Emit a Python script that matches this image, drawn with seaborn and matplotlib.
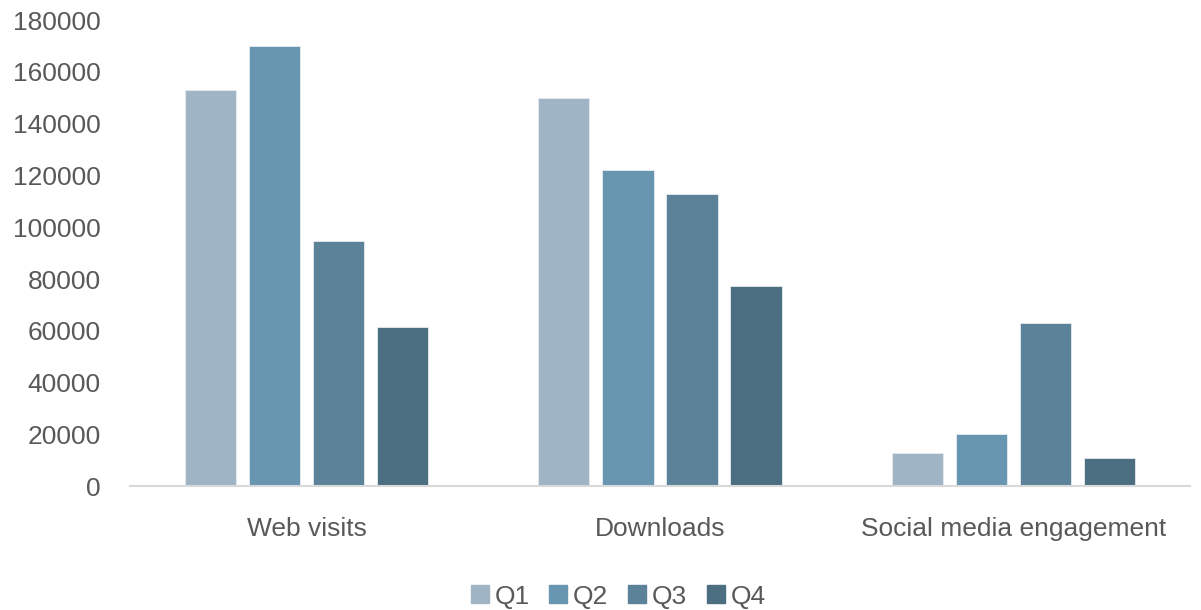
import matplotlib
matplotlib.use("Agg")
import matplotlib.pyplot as plt
import seaborn as sns
import pandas as pd

categories = ["Web visits", "Downloads", "Social media engagement"]
quarters = ["Q1", "Q2", "Q3", "Q4"]
q1 = [153000, 150000, 13000]
q2 = [170000, 122000, 20000]
q3 = [94600, 113000, 63000]
q4 = [61500, 77500, 11000]
colors = ["#9FB4C4", "#6895B0", "#5B8299", "#4B6E81"]

rows = []
for qi, (q, vals) in enumerate(zip(quarters, [q1, q2, q3, q4])):
    for c, v in zip(categories, vals):
        rows.append({"Category": c, "Quarter": q, "Value": v})
df = pd.DataFrame(rows)

sns.set_style("white")
plt.rcParams["font.family"] = ["Liberation Sans", "DejaVu Sans"]

fig = plt.figure(figsize=(12.01, 6.10), dpi=100)
ax = fig.add_axes([0.108, 0.203, 0.883, 0.764])

sns.barplot(data=df, x="Category", y="Value", hue="Quarter", order=categories,
            hue_order=quarters, palette=colors, width=0.725, gap=0.2,
            saturation=1, edgecolor="#E6ECF0", linewidth=0.6, ax=ax,
            errorbar=None)

ax.set_xlim(-0.5, 2.5)
ax.set_ylim(0, 180000)
ax.set_yticks(range(0, 180001, 20000))
ax.set_yticklabels([str(v) for v in range(0, 180001, 20000)])
ax.set_xlabel("")
ax.set_ylabel("")
for s in ["top", "right", "left"]:
    ax.spines[s].set_visible(False)
ax.spines["bottom"].set_color("#D9D9D9")
ax.spines["bottom"].set_linewidth(1.5)
ax.tick_params(axis="both", length=0, colors="#595959", labelsize=19)
ax.tick_params(axis="x", pad=22)
ax.tick_params(axis="y", pad=21)

ax.legend_.remove()
handles = [plt.Line2D([0], [0], marker="s", linestyle="", markersize=13,
                      markerfacecolor=c, markeredgecolor=c) for c in colors]
leg = fig.legend(handles, quarters, loc="center", bbox_to_anchor=(0.513, 0.022),
                 ncol=4, frameon=False, fontsize=19, handletextpad=0.05,
                 columnspacing=0.6, handlelength=1.0, labelcolor="#595959")

fig.savefig("out.png", dpi=100)
